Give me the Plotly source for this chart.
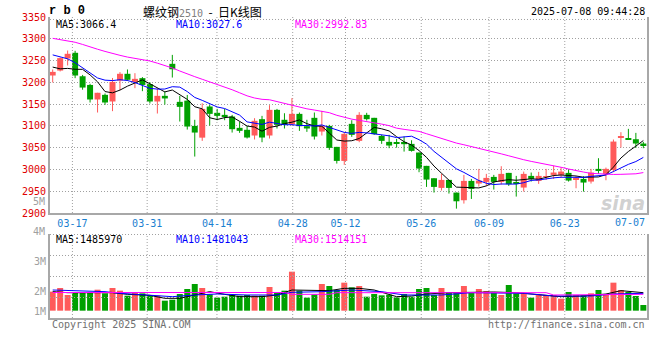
import plotly.graph_objects as go

# ---------------- data ----------------
dates = ["03-12","03-13","03-14","03-17","03-18","03-19","03-20","03-21","03-24","03-25","03-26","03-27","03-28","03-31",
         "04-01","04-02","04-03","04-07","04-08","04-09","04-10","04-11","04-14","04-15","04-16","04-17","04-18","04-21",
         "04-22","04-23","04-24","04-25","04-28","04-29","04-30","05-06","05-07","05-08","05-09","05-12","05-13","05-14",
         "05-15","05-16","05-19","05-20","05-21","05-22","05-23","05-26","05-27","05-28","05-29","05-30","06-03","06-04",
         "06-05","06-06","06-09","06-10","06-11","06-12","06-13","06-16","06-17","06-18","06-19","06-20","06-23","06-24",
         "06-25","06-26","06-27","06-30","07-01","07-02","07-03","07-04","07-07","07-08"]

opens = [3215.7,3227,3254.8,3267.8,3214,3194,3160.6,3171.3,3156,3204,3219.6,3201,3209.6,3195.8,3156,3169,3242.5,3155.2,3158,3100,
         3073,3144.5,3130,3125.3,3121.5,3095.5,3091,3077.9,3115.4,3077.9,3136.8,3114,3103.9,3127.6,3099.3,3118.5,3087,3100,3051.8,3019.6,
         3104.7,3065.6,3125.3,3118.5,3077,3063.3,3061,3063,3058.7,3038.8,3008.2,2979.8,2957.6,2976,2946.9,2929.3,2973.7,2967.6,2971.4,2982.9,
         2971.4,2992.1,2969.9,2958.4,2985.2,2973.7,2982.9,2987.5,2987.5,2992.1,2976,2978.3,2972.2,3001.3,2989.8,2998.9,3073.3,3071.7,3069.4,3059.5]
highs = [3229.5,3257,3273,3272.4,3217,3196.6,3176,3174.4,3210,3223.4,3229.5,3221,3212,3200.4,3186.6,3179,3263,3169,3171,3114,
         3152,3148.3,3139,3139,3125.3,3110,3100,3117.7,3123,3147.6,3139,3129,3163.7,3130.7,3114,3130.7,3134.5,3102.4,3051.8,3085.5,
         3113,3131.5,3130,3118.5,3079.4,3079.4,3070,3075.6,3067,3038.8,3008.2,2979.8,2989.8,2976,2946.9,2987.5,2978.3,3001.3,2989.8,2987.5,
         3007.4,2992.1,2985.2,2995.1,2992.9,2994.4,3001.3,3008.2,3005.1,3000.5,2984.4,2984.4,3001.3,3025.8,3004.3,3068.7,3085.5,3093.2,3084,3063.3]
lows = [3199.7,3225,3238.7,3209.6,3183,3153.7,3130.7,3148.3,3133.8,3182,3203.5,3186.6,3179.7,3151.4,3128.4,3149,3211,3110,3091.6,3029.6,
        3065.6,3100.8,3113,3113,3084.7,3084,3071,3068.7,3062.5,3071,3094,3094,3100.8,3088.6,3086.3,3068.7,3077.9,3044.9,3013.5,3010.5,
        3074.8,3062.5,3112.3,3079.4,3058.7,3048.8,3050,3041,3041,2993.6,2959.9,2946.9,2951.5,2944.6,2910,2921.6,2932.3,2960.7,2962.2,2953.8,
        2965.3,2962.2,2937.7,2949.2,2972.2,2966.8,2976,2978.3,2981.4,2972.2,2956.8,2949.2,2967.6,2989.8,2975.2,2993.6,3050.3,3067.9,3049.5,3048.8]
closes = [3224,3255.6,3265.5,3215.7,3188,3160.6,3176,3153.7,3201,3219.6,3205.8,3208,3194,3156,3169,3163,3230,3143.7,3098.5,3084.7,
          3139,3127.6,3123,3120.8,3092.4,3088.6,3073.3,3111.6,3073.3,3136.8,3102.4,3102.4,3127.6,3099.3,3094,3075.6,3099.3,3049.5,3019.6,3081.7,
          3079.4,3125.3,3115.4,3081,3065.6,3054.9,3059,3058,3042.6,3002,2976.7,2959.9,2976,2957.6,2926.9,2973.7,2955.3,2974.5,2980.6,2971.4,
          2989.8,2966,2968.3,2989.8,2978.3,2985.2,2984.4,2992.9,2995.1,2974.5,2978.3,2969.9,2992.9,2998.2,3001.3,3064,3074.8,3067.9,3059.5,3055.6]

ma5 = [3235,3231,3232,3230,3229.8,3217.1,3201.2,3178.8,3175.9,3182.2,3191.2,3197.6,3205.7,3196.7,3186.6,3178.0,3182.4,3172.3,3160.8,3144.0,
       3139.2,3118.7,3114.6,3119.0,3120.6,3110.5,3099.6,3097.3,3087.8,3096.7,3099.5,3105.3,3108.5,3113.7,3105.1,3099.8,3099.2,3083.5,3067.6,3065.1,
       3065.9,3071.1,3084.3,3096.6,3093.3,3088.4,3075.2,3063.7,3056.0,3043.3,3027.7,3007.8,2991.4,2974.4,2959.4,2958.8,2957.9,2957.6,2962.2,2971.1,
       2974.3,2976.5,2975.2,2977.1,2978.4,2977.5,2981.2,2986.1,2987.2,2986.4,2985.0,2982.1,2982.1,2982.8,2988.1,3005.3,3026.2,3041.2,3053.5,3066.4]
ma10 = [3263,3259,3254,3245,3233,3220,3210,3205,3204,3206.0,3204.2,3199.4,3192.2,3186.3,3184.4,3184.6,3190.0,3189.0,3178.8,3165.3,
        3158.6,3150.6,3143.5,3139.9,3132.3,3124.8,3109.2,3106.0,3103.4,3108.6,3105.0,3102.5,3102.9,3100.8,3100.9,3099.6,3102.2,3096.0,3090.7,3085.1,
        3082.8,3085.1,3083.9,3082.1,3079.2,3077.2,3073.1,3074.0,3076.3,3068.3,3058.1,3041.5,3027.6,3015.2,3001.4,2993.2,2982.9,2974.5,2968.3,2965.3,
        2966.6,2967.2,2966.4,2969.6,2974.8,2975.9,2978.8,2980.7,2982.1,2982.4,2981.3,2981.7,2984.1,2985.0,2987.3,2995.2,3004.2,3011.7,3018.1,3027.6]
ma30 = [3301,3298.5,3295.5,3292,3287,3281,3276,3271,3266,3262,3258,3255,3252,3249,3244,3239,3233,3226,3219,3213,
        3207,3201,3196,3190,3183,3176,3169,3164,3161,3160.0,3155.9,3150.8,3146.2,3142.3,3139.2,3136.4,3133.8,3130.3,3124.3,3119.7,
        3115.5,3112.7,3110.1,3107.6,3104.1,3100.5,3094.8,3092.0,3090.1,3087.4,3082.0,3076.4,3071.5,3066.0,3060.5,3056.7,3052.7,3048.2,3045.1,3039.6,
        3035.8,3031.3,3026.0,3022.3,3018.5,3015.4,3011.6,3008,3005,3001,2997,2994,2991,2989.9,2988.5,2988.5,2988.8,2989.2,2990,2992.8]

# volume, in the units of the volume axis labels (M)
volumes = [1.978,2.100,1.867,1.944,1.944,1.944,2.044,1.922,2.100,2.011,1.844,1.944,1.922,1.867,1.844,1.678,1.711,1.900,2.067,2.233,
           2.100,1.889,1.778,1.811,1.867,1.844,1.867,1.844,1.844,2.133,1.933,2.011,2.644,2.011,1.778,1.889,2.233,2.167,2.033,2.278,
           2.122,2.167,1.811,1.900,1.856,1.878,1.789,1.900,1.811,2.067,2.100,1.867,2.100,1.956,1.944,2.167,1.944,2.067,2.000,1.944,
           1.867,2.200,1.922,1.944,1.778,1.878,1.867,1.867,1.744,1.967,1.867,1.867,1.922,2.033,1.867,2.278,2.033,1.967,1.833,1.533]
vol_floor = 1.344

vol_ma5_idx = [0,2,5,8,10,13,15,17,19,21,23,25,28,30,32,34,37,39,41,43,46,48,50,53,56,59,62,65,68,71,74,76,78,79]
vol_ma5 = [1.978,1.944,1.944,1.944,1.889,1.856,1.756,1.756,1.867,1.978,1.889,1.811,1.811,1.867,2.033,2.033,2.011,2.089,2.089,2.033,
           1.811,1.833,1.900,1.944,1.967,1.967,1.944,1.867,1.811,1.833,1.900,2.011,1.978,1.944]
vol_ma10_idx = [0,4,7,9,13,16,19,22,26,30,32,36,40,44,47,52,56,60,63,67,72,75,79]
vol_ma10 = [2.033,2.000,1.978,1.922,1.867,1.811,1.867,1.900,1.867,1.867,1.956,1.978,2.033,1.978,1.867,1.867,1.944,1.944,1.922,1.833,
            1.833,1.900,1.922]
vol_ma30_idx = [0,31,32,37,38,66,67,74,75,79]
vol_ma30 = [1.950,1.950,1.889,1.889,1.944,1.944,1.867,1.867,1.889,1.889]

tick_labels = ["03-17","03-31","04-14","04-28","05-12","05-26","06-09","06-23","07-07"]
tick_pos = [2.639, 12.637, 21.969, 32.100, 39.165, 49.296, 58.361, 68.493]
price_ticks = [2900, 2950, 3000, 3050, 3100, 3150, 3200, 3250, 3300, 3350]
vol_tick_vals = [1.333, 2, 3, 4, 5]
vol_tick_text = ["1M", "2M", "3M", "4M", "5M"]

legend_price = ["MA5:3066.4", "MA10:3027.6", "MA30:2992.83"]
legend_vol = ["MA5:1485970", "MA10:1481043", "MA30:1514151"]

# ---------------- styling ----------------
RED, GREEN = "#ff5a5a", "#00a000"
MA_COLORS = ["#000000", "#0000ff", "#ff00ff"]
GRID = "#a0a0a0"
AXIS = "#a8a8a8"
DATE_BLUE = "#1a80d0"
MONO = "DejaVu Sans Mono"
DOTS = "1px,2px"

L, R, T, B = 50, 649, 17, 318
def px(xp): return (xp - L) / (R - L)
def py(yp): return (B - yp) / (B - T)

xr = [-0.36, 79.49]
pr = [2900, 3350]
vr = [1.1, 3.9]
vol_grid_vals = [1.7833, 2.4833, 3.1833, 3.8833]
price_top_border = 3344.3

idx = list(range(len(dates)))
up = [c >= o for o, c in zip(opens, closes)]
colors = [RED if u else GREEN for u in up]
body_base = [min(o, c) for o, c in zip(opens, closes)]
body_h = [max(abs(c - o), 1.3) for o, c in zip(opens, closes)]

fig = go.Figure()

def seg_trace(xs, ys, xa, ya, color, dash=None, width=1):
    fig.add_trace(go.Scatter(x=xs, y=ys, mode="lines", line=dict(color=color, width=width, dash=dash),
                             xaxis=xa, yaxis=ya, hoverinfo="skip"))

# grid lines, one trace each so that every dotted line starts cleanly
for tp in tick_pos:
    seg_trace([tp, tp], pr, "x", "y", GRID, DOTS)
    seg_trace([tp, tp], vr, "x2", "y2", GRID, DOTS)
seg_trace(xr, [price_top_border, price_top_border], "x", "y", GRID, DOTS)
for gv in vol_grid_vals:
    seg_trace(xr, [gv, gv], "x2", "y2", GRID, DOTS)

for want, col in ((True, RED), (False, GREEN)):
    wx, wy = [], []
    for i, u in enumerate(up):
        if u == want:
            wx += [i, i, None]
            wy += [lows[i], highs[i], None]
    seg_trace(wx, wy, "x", "y", col)
fig.add_trace(go.Bar(x=idx, y=body_h, base=body_base, width=0.8, marker=dict(color=colors, line=dict(width=0)),
                     xaxis="x", yaxis="y"))
for vals, col in zip((ma5, ma10, ma30), MA_COLORS):
    seg_trace(idx, vals, "x", "y", col)

fig.add_trace(go.Bar(x=idx, y=[v - vol_floor for v in volumes], base=vol_floor, width=0.8,
                     marker=dict(color=colors, line=dict(width=0)), xaxis="x2", yaxis="y2"))
for xs, vals, col in ((vol_ma5_idx, vol_ma5, MA_COLORS[0]), (vol_ma10_idx, vol_ma10, MA_COLORS[1]),
                      (vol_ma30_idx, vol_ma30, MA_COLORS[2])):
    seg_trace(xs, vals, "x2", "y2", col)

ann = []
def text(xp, yp, s, color="#000", size=10, anchor="left", family=MONO):
    ann.append(dict(xref="paper", yref="paper", x=px(xp), y=py(yp), text=s, showarrow=False,
                    xanchor=anchor, yanchor="middle", font=dict(family=family, size=size, color=color)))

text(47, 11, "<b>r b 0</b>", size=12, family="Liberation Mono")
ann.append(dict(xref="paper", yref="paper", x=px(141), y=py(11), showarrow=False, xanchor="left", yanchor="middle",
                text="螺纹钢<span style='font-family:DejaVu Sans Mono;font-size:10px;color:#808080'>2510</span>  -  日K线图",
                font=dict(family="Noto Sans CJK SC", size=12, color="#000")))
text(649, 11, "2025-07-08 09:44:28", anchor="right")
for xp, s, c in zip((54, 174, 294), legend_price, MA_COLORS):
    text(xp, 25, s, color=c)
for xp, s, c in zip((54, 174, 294), legend_vol, MA_COLORS):
    text(xp, 239.5, s, color=c)
text(649, 222, tick_labels[-1], color=DATE_BLUE, anchor="right")
for yp, s in ((231, vol_tick_text[3]), (201, vol_tick_text[4])):
    text(47, yp, s, color="#a0a0a0", anchor="right")
text(50, 324, "Copyright 2025 SINA.COM", color="#707070")
text(649, 324, "http://finance.sina.com.cn", color="#707070", anchor="right")
text(649, 203, "<b><i>sina</i></b>", color="rgba(170,170,170,0.55)", size=19, anchor="right", family="DejaVu Sans")

fig.update_layout(
    width=660, height=360, margin=dict(l=L, r=660 - R, t=T, b=360 - B),
    paper_bgcolor="white", plot_bgcolor="rgba(0,0,0,0)", showlegend=False, barmode="overlay",
    annotations=ann,
    xaxis=dict(domain=[0, 1], anchor="y", range=xr, tickmode="array", tickvals=tick_pos, ticktext=tick_labels[:-1],
               showticklabels=True, showgrid=False, zeroline=False,
               showline=True, linecolor=AXIS, linewidth=2, ticks="",
               tickfont=dict(family=MONO, size=10, color=DATE_BLUE)),
    yaxis=dict(domain=[py(213), 1], anchor="x", range=pr, tickmode="array", tickvals=price_ticks,
               showgrid=True, gridcolor=GRID, griddash=DOTS, gridwidth=1, zeroline=False,
               showline=True, mirror=True, linecolor=AXIS, linewidth=2, ticks="",
               tickfont=dict(family=MONO, size=10, color="#e00000")),
    xaxis2=dict(domain=[0, 1], anchor="y2", range=xr, showticklabels=False, showgrid=False,
                zeroline=False, showline=True, linecolor=AXIS, linewidth=2, ticks=""),
    yaxis2=dict(domain=[0, py(234)], anchor="x2", range=vr, tickmode="array", tickvals=vol_tick_vals[:3],
                ticktext=vol_tick_text[:3], showgrid=False, zeroline=False, showline=True, mirror=True,
                linecolor=AXIS, linewidth=2, ticks="",
                tickfont=dict(family=MONO, size=10, color="#a0a0a0")),
)

fig.write_html("out.html", post_script="document.body.style.margin='0px';",
               config={"displayModeBar": False})
